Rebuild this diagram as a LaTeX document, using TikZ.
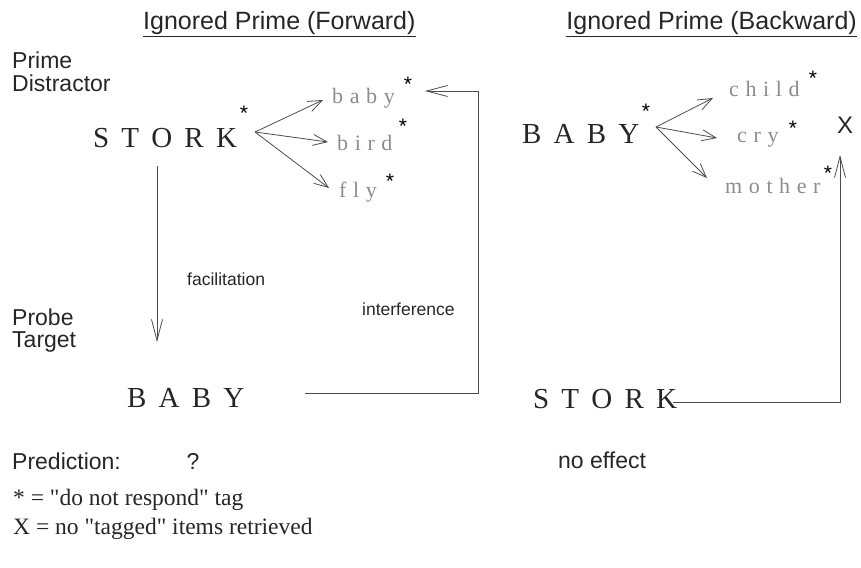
\documentclass[tikz,border=0pt]{standalone}
\usepackage{fontspec}
\setmainfont{Liberation Serif}
\newfontfamily\sansf{Liberation Sans}
\newfontfamily\legf[Ligatures=TeXOff]{Liberation Serif}
\usetikzlibrary{arrows.meta}
\newcommand\gapL{\hspace{.42em}}
\newcommand\gapS{\hspace{.3em}}
\tikzset{
  title/.style={font=\sansf\fontsize{25}{25}\selectfont, text=black!85, inner sep=0},
  lbl/.style={font=\sansf\fontsize{23}{23}\selectfont, text=black!85, inner sep=0, anchor=base west},
  small/.style={font=\sansf\fontsize{17.5}{17.5}\selectfont, text=black!85, inner sep=0, anchor=base west},
  bigw/.style={font=\fontsize{29}{29}\selectfont, text=black!85, inner sep=0, anchor=base west},
  grayw/.style={font=\fontsize{22}{22}\selectfont, text=black!45, inner sep=0, anchor=base west},
  tagstar/.style={font=\sansf\fontsize{21}{21}\selectfont, text=black, inner sep=0, anchor=north},
  legend/.style={font=\legf\fontsize{23.5}{23.5}\selectfont, text=black!85, inner sep=0, anchor=base west},
  link/.style={draw=black!70, line width=0.8pt},
  arr/.style={link, -{Straight Barb[length=14pt,width=11pt]}},
  longarr/.style={link, -{Straight Barb[length=21pt,width=11pt]}}
}
\begin{document}
\begin{tikzpicture}[x=1pt,y=-1pt]
\useasboundingbox (0,0) rectangle (861,567);
% titles
\node[title, anchor=base west] (t1) at (143,30) {\underline{Ignored Prime (Forward)}};
\node[title, anchor=base east] (t2) at (857,30) {\underline{Ignored Prime (Backward)}};
% row labels
\node[lbl] (pr) at (12,69) {Prime};
\node[lbl] (di) at (12,92) {Distractor};
\node[lbl] (pb) at (12,325) {Probe};
\node[lbl] (tg) at (12,347) {Target};
\node[lbl] (pd) at (12,469) {Prediction:};
\node[lbl, anchor=base] (q) at (193,469) {?};
\node[lbl] (ne) at (558,468) {no effect};
% forward panel
\node[bigw] (stork1) at (93,147) {S\gapL T\gapL O\gapL R\gapL K};
\node[tagstar] (s1) at (244,106) {*};
\node[grayw] (baby1) at (332,103) {b\gapS a\gapS b\gapS y};
\node[tagstar] (s2) at (408,77) {*};
\node[grayw] (bird) at (337,150) {b\gapS i\gapS r\gapS d};
\node[tagstar] (s3) at (403,119) {*};
\node[grayw] (fly) at (339,197) {f\gapS l\gapS y};
\node[tagstar] (s4) at (390,174) {*};
\node[bigw] (baby2) at (127,407) {B\gapL A\gapL B\gapL Y};
\node[small] (fac) at (187,285) {facilitation};
\node[small] (intf) at (362,315) {interference};
% backward panel
\node[bigw] (baby3) at (522,143) {B\gapL A\gapL B\gapL Y};
\node[tagstar] (s5) at (646,104) {*};
\node[grayw] (child) at (729,97) {c\gapS h\gapS i\gapS l\gapS d};
\node[tagstar] (s6) at (813,71) {*};
\node[grayw] (cry) at (737,142) {c\gapS r\gapS y};
\node[tagstar] (s7) at (793,121) {*};
\node[font=\sansf\fontsize{24}{24}\selectfont, text=black!85, inner sep=0] (xx) at (845,125) {X};
\node[grayw] (mother) at (725,193) {m\gapS o\gapS t\gapS h\gapS e\gapS r};
\node[tagstar] (s8) at (828,166) {*};
\node[bigw] (stork2) at (533,408) {S\gapL T\gapL O\gapL R\gapL K};
% connector points
\coordinate (o1) at (255,132);
\coordinate (a1) at (323,100);
\coordinate (a2) at (328,142);
\coordinate (a3) at (329,188);
\coordinate (o2) at (656,127);
\coordinate (b1) at (713,98);
\coordinate (b2) at (717,138);
\coordinate (b3) at (707,178);
\coordinate (f0) at (157,166);
\coordinate (f1) at (157,342);
\coordinate (i0) at (305,393);
\coordinate (i1) at (478,91);
\coordinate (i2) at (425,91);
\coordinate (u0) at (673,402);
\coordinate (u1) at (840,155);
% connectors
\draw[arr] (o1) -- (a1);
\draw[arr] (o1) -- (a2);
\draw[arr] (o1) -- (a3);
\draw[arr] (o2) -- (b1);
\draw[arr] (o2) -- (b2);
\draw[arr] (o2) -- (b3);
\draw[longarr] (f0) -- (f1);
\draw[longarr] (i0) -| (i1) -- (i2);
\draw[longarr] (u0) -| (u1);
% legend
\node[legend] (l1) at (13,505) {* = "do not respond" tag};
\node[legend] (l2) at (13,534) {X = no "tagged" items retrieved};
\end{tikzpicture}
\end{document}
